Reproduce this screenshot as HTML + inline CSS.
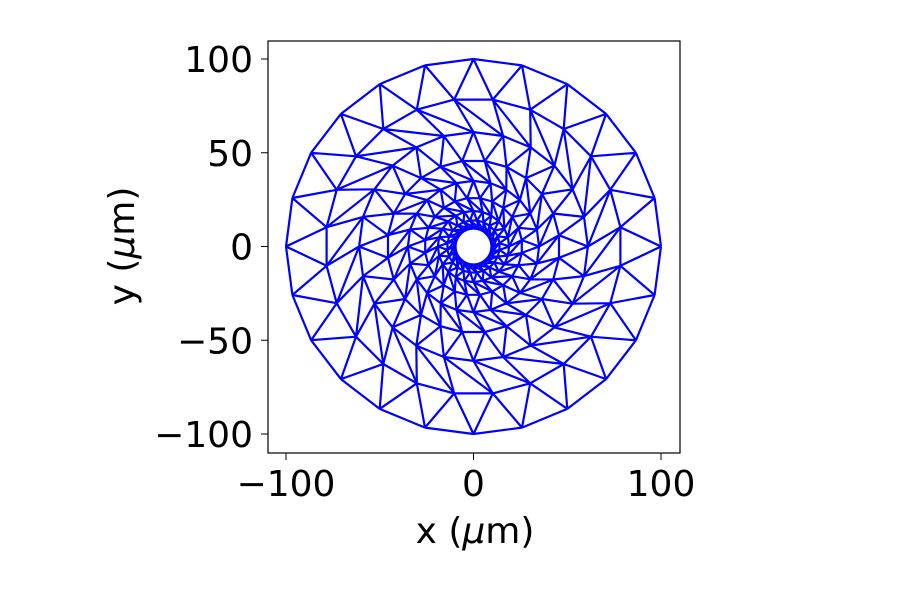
<!DOCTYPE html>
<html><head><meta charset="utf-8"><style>
body{margin:0;background:#fff}
svg text{font-family:"DejaVu Sans","Liberation Sans",sans-serif;fill:#000}
</style></head><body>
<svg id="chart" width="900" height="600">
<g id="mesh"></g>
<circle id="hole" fill="#fff"/>
<rect x="268" y="41" width="412" height="412" fill="none" stroke="#000" stroke-width="1.2"/>
<g id="axes"></g>
<text x="475" y="543" font-size="36" text-anchor="middle">x (<tspan font-style="italic">μ</tspan>m)</text>
<text transform="translate(134,246) rotate(-90)" font-size="36" text-anchor="middle">y (<tspan font-style="italic">μ</tspan>m)</text>
</svg>
<script>
const ringRadii=[100,79,61,46,35,26,19,14,10.5,9];
const ringCounts=[24,24,24,24,24,24,24,24,24,24];
const xTicks=[-100,0,100];
const yTicks=[-100,-50,0,50,100];
const holeRadius=9;
const ns="http://www.w3.org/2000/svg";
const X=v=>473.5+v*1.875, Y=v=>246.5-v*1.875;
const mesh=document.getElementById('mesh');
const rings=ringRadii.map((r,i)=>{const n=ringCounts[i];const pts=[];for(let j=0;j<n;j++){const a=(j+(i%2)*0.5)*2*Math.PI/n;pts.push([r*Math.cos(a),r*Math.sin(a)]);}return pts;});
let d='';
const seg=(p,q)=>{d+=`M${X(p[0]).toFixed(1)},${Y(p[1]).toFixed(1)}L${X(q[0]).toFixed(1)},${Y(q[1]).toFixed(1)}`;};
rings.forEach(r=>{for(let j=0;j<r.length;j++)seg(r[j],r[(j+1)%r.length]);});
for(let i=0;i<rings.length-1;i++){const A=rings[i],B=rings[i+1],n=A.length;
 for(let j=0;j<n;j++){ if(i%2===0){seg(A[j],B[j]);seg(A[(j+1)%n],B[j]);} else {seg(A[j],B[j]);seg(A[j],B[(j+n-1)%n]);} }}
const p=document.createElementNS(ns,'path');
p.setAttribute('d',d);p.setAttribute('stroke','#0000ff');p.setAttribute('stroke-width','2.2');p.setAttribute('fill','none');p.setAttribute('stroke-linejoin','round');


mesh.appendChild(p);
const h=document.getElementById('hole');h.setAttribute('cx',X(0));h.setAttribute('cy',Y(0));h.setAttribute('r',holeRadius*1.875);
const ax=document.getElementById('axes');
const fmt=v=>v<0?'\u2212'+(-v):''+v;
xTicks.forEach(v=>{const l=document.createElementNS(ns,'line');l.setAttribute('x1',X(v));l.setAttribute('x2',X(v));l.setAttribute('y1',453);l.setAttribute('y2',460);l.setAttribute('stroke','#000');


ax.appendChild(l);
const t=document.createElementNS(ns,'text');t.setAttribute('x',X(v));t.setAttribute('y',496);t.setAttribute('font-size','36');t.setAttribute('text-anchor','middle');t.textContent=fmt(v);


ax.appendChild(t);});
yTicks.forEach(v=>{const l=document.createElementNS(ns,'line');l.setAttribute('x1',261);l.setAttribute('x2',268);l.setAttribute('y1',Y(v));l.setAttribute('y2',Y(v));l.setAttribute('stroke','#000');


ax.appendChild(l);
const t=document.createElementNS(ns,'text');t.setAttribute('x',253);t.setAttribute('y',Y(v)+13);t.setAttribute('font-size','36');t.setAttribute('text-anchor','end');t.textContent=fmt(v);


ax.appendChild(t);});
</script>
</body></html>
